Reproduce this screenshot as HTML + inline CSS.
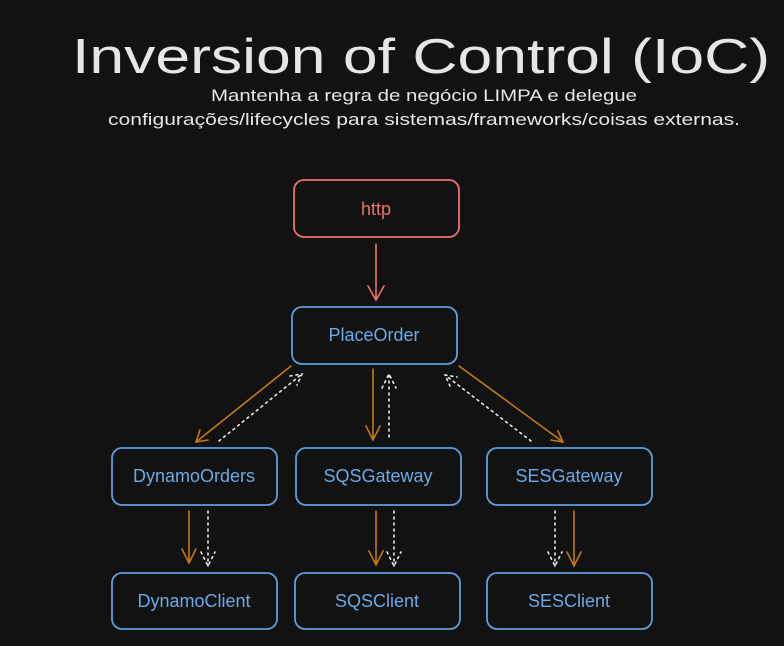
<!DOCTYPE html>
<html><head><meta charset="utf-8"><style>
html,body{margin:0;padding:0;background:#121212;}
svg{display:block}
text{font-family:"Liberation Sans",sans-serif;}
</style></head><body>
<svg width="784" height="646" viewBox="0 0 784 646" xmlns="http://www.w3.org/2000/svg">
<rect width="784" height="646" fill="#121212"/>
<text x="72" y="73" font-size="49" fill="#e6e6e6" textLength="698" lengthAdjust="spacingAndGlyphs">Inversion of Control (IoC)</text>
<text x="211" y="101" font-size="17" fill="#e6e6e6" textLength="426" lengthAdjust="spacingAndGlyphs">Mantenha a regra de negócio LIMPA e delegue</text>
<text x="108" y="125" font-size="17" fill="#e6e6e6" textLength="632" lengthAdjust="spacingAndGlyphs">configurações/lifecycles para sistemas/frameworks/coisas externas.</text>
<g fill="#121212" stroke-width="1.8">
<rect x="294" y="180" width="165" height="57" rx="10" stroke="#f07070"/>
<rect x="292" y="307" width="165" height="57" rx="10" stroke="#5c9fde"/>
<rect x="112" y="448" width="165" height="57" rx="10" stroke="#5c9fde"/>
<rect x="296" y="448" width="165" height="57" rx="10" stroke="#5c9fde"/>
<rect x="487" y="448" width="165" height="57" rx="10" stroke="#5c9fde"/>
<rect x="112" y="573" width="165" height="56" rx="10" stroke="#5c9fde"/>
<rect x="295" y="573" width="165" height="56" rx="10" stroke="#5c9fde"/>
<rect x="487" y="573" width="165" height="56" rx="10" stroke="#5c9fde"/>
</g>
<g font-size="18" text-anchor="middle" fill="#6aaae6">
<text x="376" y="215" fill="#f07070">http</text>
<text x="374" y="341">PlaceOrder</text>
<text x="194" y="482">DynamoOrders</text>
<text x="378" y="482">SQSGateway</text>
<text x="569" y="482">SESGateway</text>
<text x="194" y="607">DynamoClient</text>
<text x="377" y="607">SQSClient</text>
<text x="569" y="607">SESClient</text>
</g>
<g fill="none" stroke-width="1.6" stroke-linecap="round">
<path d="M376 244 V300 M368 286 L376 300 L384 286" stroke="#f07070"/>
<g stroke="#c47a14">
<path d="M291 366 L196 442 M200 430 L196 442 L208 440"/>
<path d="M373 369 V440 M366 426 L373 440 L380 426"/>
<path d="M459 366 L563 442 M551 440 L563 442 L558 431"/>
<path d="M189 511 V563 M182 549 L189 563 L196 549"/>
<path d="M376 511 V565 M369 551 L376 565 L383 551"/>
<path d="M574 511 V566 M567 552 L574 566 L581 552"/>
</g>
<g stroke="#e8e8e8" stroke-dasharray="2 4">
<path d="M219 441 L302 374 M290 376 L302 374 L297 385"/>
<path d="M389 437 V374 M382 388 L389 374 L396 388"/>
<path d="M531 441 L445 375 M450 386 L445 375 L457 377"/>
<path d="M208 511 V566 M201 552 L208 566 L215 552"/>
<path d="M394 511 V566 M387 552 L394 566 L401 552"/>
<path d="M555 511 V566 M548 552 L555 566 L562 552"/>
</g>
</g>
</svg>
</body></html>
